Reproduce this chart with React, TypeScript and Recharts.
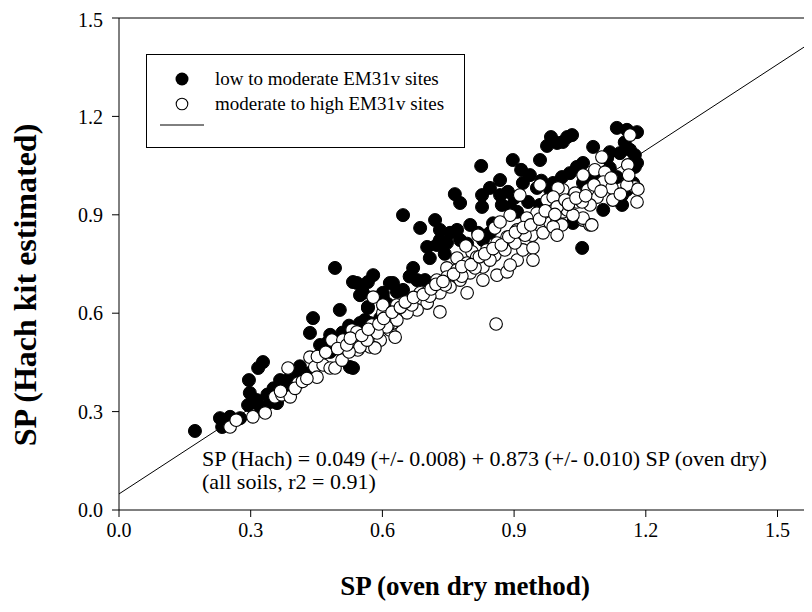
import React from "react";
import { ScatterChart, Scatter, XAxis, YAxis, ReferenceLine, Legend } from "recharts";

const SERIF = "'Liberation Serif', 'Times New Roman', Times, serif";

const seriesNames = ["low to moderate EM31v sites", "moderate to high EM31v sites"];
const xTicks = [0, 0.3, 0.6, 0.9, 1.2, 1.5];
const yTicks = [0, 0.3, 0.6, 0.9, 1.2, 1.5];
const fitIntercept = 0.049;
const fitSlope = 0.873;
const fitXRange = [0, 1.6];
const equationLines = [
  "SP (Hach) = 0.049 (+/- 0.008) + 0.873 (+/- 0.010) SP (oven dry)",
  "(all soils, r2 = 0.91)",
];

const lowPairs: number[][] = [
  [0.173,0.241],[0.230,0.280],[0.235,0.253],[0.253,0.284],[0.276,0.280],[0.296,0.396],[0.298,0.357],[0.317,0.433],[0.328,0.451],[0.294,0.320],[0.314,0.335],[0.321,0.314],[0.344,0.329],[0.360,0.326],[0.367,0.396],[0.383,0.375],[0.390,0.405],[0.405,0.396],[0.417,0.412],[0.424,0.412],[0.435,0.418],[0.442,0.585],[0.435,0.540],[0.458,0.503],[0.465,0.482],[0.481,0.482],[0.492,0.494],[0.526,0.436],[0.533,0.433],[0.549,0.655],[0.542,0.692],[0.567,0.616],[0.572,0.570],[0.601,0.662],[0.617,0.692],[0.595,0.585],[0.633,0.601],[0.567,0.695],[0.492,0.738],
  [0.647,0.899],[0.777,0.936],[0.827,0.960],[0.827,0.924],[0.868,0.960],[0.872,0.930],[0.891,0.924],[0.907,0.909],[0.920,0.997],[0.952,0.982],[0.982,0.976],[1.011,0.966],[0.731,0.854],[0.754,0.845],[0.770,0.854],[0.800,0.869],[0.818,0.845],[0.731,0.823],[0.747,0.814],[0.777,0.823],[0.829,0.823],[0.845,0.845],[0.724,0.808],[0.702,0.802],[0.708,0.768],[0.670,0.738],[0.679,0.701],[0.579,0.716],[0.624,0.692],[0.533,0.695],[0.556,0.662],[0.567,0.619],[0.601,0.649],[0.633,0.665],[0.647,0.671],[0.697,0.701],[0.560,0.579],[0.549,0.570],[1.055,0.799],[1.057,0.997],[1.021,0.924],[0.932,0.939],[0.959,0.930],
  [1.134,1.165],[1.157,1.159],[1.180,1.152],[1.021,1.137],[1.032,1.143],[0.998,1.119],[1.011,1.122],[1.080,1.107],[1.118,1.091],[1.141,1.088],[1.164,1.098],[1.175,1.082],[1.180,1.058],[1.057,1.058],[1.043,1.046],[1.027,1.027],[1.009,1.015],[0.989,0.997],[1.073,1.006],[1.096,1.021],[1.134,1.015],[1.157,0.976],[1.146,0.960],[1.146,0.930],[1.103,0.915],[1.034,0.875],[1.175,1.046],[1.112,1.073],[1.171,0.997],
  [0.825,1.049],[0.765,0.963],[0.897,1.067],[0.916,1.037],[0.975,1.110],[0.984,1.137],[0.959,1.067],[0.936,1.021],[0.868,1.006],[0.845,0.982],[0.886,0.970],[0.686,0.860],[0.720,0.884],[0.481,0.534],[0.503,0.610],
  [0.338,0.352],[0.352,0.371],[0.371,0.382],[0.396,0.421],[0.412,0.438],[0.476,0.512],[0.509,0.541],[0.524,0.562],[0.612,0.628],[0.662,0.712],[0.742,0.781],[0.793,0.812],[0.852,0.874],[0.901,0.952],[0.962,1.004],[1.118,1.043],[1.152,1.121],[1.127,0.948],
];

const highPairs: number[][] = [
  [0.253,0.253],[0.267,0.274],[0.305,0.284],[0.333,0.296],[0.355,0.345],[0.371,0.351],[0.390,0.345],[0.385,0.433],[0.408,0.387],[0.435,0.466],[0.446,0.436],[0.451,0.405],[0.465,0.442],[0.481,0.433],[0.485,0.518],[0.492,0.433],[0.508,0.457],[0.510,0.518],[0.531,0.549],[0.538,0.512],[0.544,0.488],[0.556,0.509],[0.572,0.497],[0.583,0.503],[0.595,0.518],[0.601,0.601],[0.617,0.588],[0.617,0.549],[0.629,0.527],[0.624,0.570],[0.579,0.649],[0.601,0.625],
  [0.856,0.860],[0.804,0.787],[0.770,0.768],[0.747,0.738],[0.724,0.701],[0.702,0.655],[0.679,0.634],[0.656,0.619],[0.633,0.625],[0.576,0.564],[0.542,0.543],[0.549,0.497],[0.583,0.494],[0.613,0.564],[0.731,0.604],[0.793,0.662],[0.829,0.701],[0.861,0.716],[0.884,0.726],[0.907,0.762],[0.920,0.793],[0.943,0.799],[0.943,0.762],[0.941,0.838],[0.966,0.845],[0.982,0.875],[0.998,0.884],[1.011,0.909],[1.057,0.884],[1.073,0.869],[1.043,0.939],[1.011,0.976],[0.989,0.936],[0.975,0.945],[0.952,0.905],[0.929,0.890],[0.907,0.854],[0.884,0.832],[0.861,0.814],[0.838,0.793],[0.815,0.771],[0.793,0.753],[0.770,0.732],[0.747,0.710],[0.715,0.680],[0.686,0.662],[0.663,0.640],[0.640,0.610],[0.856,0.777],[0.891,0.747],[0.829,0.741],[0.800,0.723],[0.777,0.701],[0.754,0.680],[0.731,0.662],[0.702,0.631],[0.679,0.610],[0.656,0.601],[0.633,0.579],[0.610,0.558],[0.588,0.540],[0.565,0.518],[0.859,0.567],
  [1.164,1.143],[1.100,1.076],[1.084,1.037],[1.057,1.021],[1.107,1.030],[1.159,1.052],[1.118,1.000],[1.103,1.000],[1.175,0.985],[1.157,0.991],[1.123,0.982],[1.089,0.954],[1.068,0.976],[1.039,0.966],[1.000,0.982],[0.989,0.954],[1.125,0.945],[1.180,0.939],[1.073,0.930],[1.055,0.939],[1.021,0.915],[0.998,0.924],[1.057,0.890],[1.077,0.869],[1.034,0.899],[1.009,0.869],[0.989,0.863],[0.998,0.838],[1.016,0.945],
  [0.913,0.960],[0.959,0.991],[0.891,0.899],[0.868,0.878],[0.818,0.838],[0.790,0.805],[0.667,0.625],[0.708,0.652],[0.743,0.686],[0.781,0.713],[0.811,0.738],[0.845,0.762],[0.879,0.793],[0.902,0.814],[0.925,0.838],[0.524,0.482],
  [0.452,0.468],[0.471,0.481],[0.498,0.492],[0.519,0.503],[0.527,0.524],[0.553,0.532],[0.568,0.551],[0.592,0.567],[0.603,0.584],[0.622,0.603],[0.641,0.618],[0.652,0.634],[0.671,0.648],[0.693,0.657],[0.711,0.674],[0.722,0.688],[0.738,0.697],[0.762,0.719],[0.781,0.742],[0.802,0.748],[0.821,0.772],[0.833,0.781],[0.852,0.797],[0.871,0.808],[0.888,0.833],[0.903,0.847],[0.921,0.861],[0.938,0.869],[0.958,0.887],[0.971,0.912],[0.993,0.901],[1.024,0.932],[1.041,0.951],[1.063,0.958],[1.082,0.991],[1.098,0.972],[1.121,1.012],[1.142,0.963],[1.161,1.021],[1.182,0.978],
  [0.368,0.362],[0.401,0.371],[0.418,0.392],[0.428,0.401],
];

const lowData = lowPairs.map(([x, y]) => ({ x, y }));
const highData = highPairs.map(([x, y]) => ({ x, y }));
const fitData = fitXRange.map((x) => ({ x, y: fitIntercept + fitSlope * x }));

const FilledDot = (p: any) => <circle cx={p.cx} cy={p.cy} r={6.5} fill="#000" stroke="#000" strokeWidth={1} />;
const OpenDot = (p: any) => <circle cx={p.cx} cy={p.cy} r={6.3} fill="#fff" stroke="#000" strokeWidth={1.1} />;
const NoDot = () => <g />;

const renderLegend = () => (
  <div style={{ width: 319, height: 94, border: "1px solid #000", boxSizing: "border-box", background: "#fff", position: "relative" }}>
    <svg width={317} height={92} style={{ position: "absolute", left: 0, top: 0 }}>
      <circle cx={35} cy={24} r={6.5} fill="#000" />
      <text x={68} y={30} fontFamily={SERIF} fontSize={19} fill="#000">{seriesNames[0]}</text>
      <circle cx={35} cy={49} r={5.8} fill="#fff" stroke="#000" strokeWidth={1.1} />
      <text x={68} y={55} fontFamily={SERIF} fontSize={19} fill="#000">{seriesNames[1]}</text>
      <line x1={13} x2={57} y1={70} y2={70} stroke="#000" strokeWidth={1} />
    </svg>
  </div>
);

export default function App() {
  const tickStyle = { fontFamily: SERIF, fontSize: 20, fill: "#000" };
  return (
    <div style={{ width: 804, height: 604, overflow: "hidden", position: "relative", background: "#fff" }}>
      <ScatterChart width={830} height={604} margin={{ top: 10, right: 16.6, bottom: 42, left: 51 }}>
        <XAxis
          type="number"
          dataKey="x"
          domain={[0, 1.6]}
          ticks={xTicks}
          allowDataOverflow
          height={60}
          tickSize={7}
          tickMargin={6}
          tick={tickStyle}
          tickFormatter={(v: number) => v.toFixed(1)}
          stroke="#000"
          axisLine={{ stroke: "#000" }}
          tickLine={{ stroke: "#000" }}
        />
        <YAxis
          type="number"
          dataKey="y"
          domain={[0, 1.5]}
          ticks={yTicks}
          allowDataOverflow
          width={60}
          tickSize={7}
          tickMargin={9}
          tick={tickStyle}
          tickFormatter={(v: number) => v.toFixed(1)}
          stroke="#000"
          axisLine={{ stroke: "#000" }}
          tickLine={{ stroke: "#000" }}
        />
        <ReferenceLine y={1.5} stroke="#000" strokeWidth={1} />
        <ReferenceLine x={1.6} stroke="#000" strokeWidth={1} />
        <Scatter name="fit" data={fitData} line={{ stroke: "#000", strokeWidth: 1 }} shape={NoDot} isAnimationActive={false} legendType="none" />
        <Scatter name={seriesNames[0]} data={lowData} shape={FilledDot} isAnimationActive={false} />
        <Scatter name={seriesNames[1]} data={highData} shape={OpenDot} isAnimationActive={false} />
        <Legend
          layout="vertical"
          align="center"
          verticalAlign="middle"
          content={renderLegend}
          wrapperStyle={{ position: "absolute", left: 138, top: 46, width: 319, height: 94 }}
        />
        <text x={194} y={458} fontFamily={SERIF} fontSize={22} fill="#000">{equationLines[0]}</text>
        <text x={194} y={481} fontFamily={SERIF} fontSize={22} fill="#000">{equationLines[1]}</text>
        <text x={457} y={587} textAnchor="middle" fontFamily={SERIF} fontSize={27} fontWeight="bold" fill="#000">SP (oven dry method)</text>
        <text
          x={17}
          y={277}
          textAnchor="middle"
          dominantBaseline="central"
          transform="rotate(-90 17 277)"
          fontFamily={SERIF}
          fontSize={32}
          fontWeight="bold"
          fill="#000"
        >
          SP (Hach kit estimated)
        </text>
      </ScatterChart>
    </div>
  );
}
